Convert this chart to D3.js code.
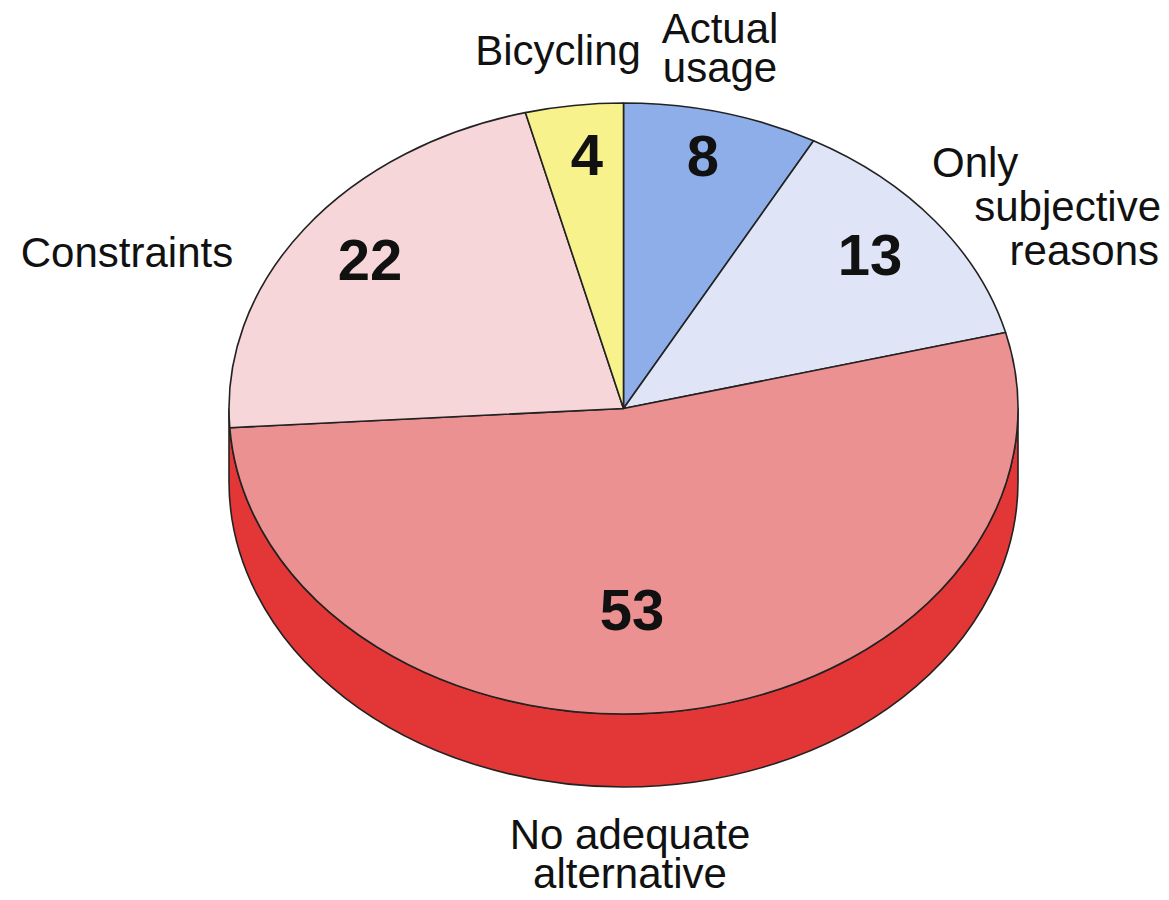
<!DOCTYPE html>
<html>
<head>
<meta charset="utf-8">
<script src="https://cdn.jsdelivr.net/npm/d3@7"></script>
<style>
  html, body { margin: 0; padding: 0; background: #fff; }
  svg { display: block; }
</style>
</head>
<body>
<script>
// Data, clockwise from 12 o'clock
const categories = ["Actual usage", "Only subjective reasons", "No adequate alternative", "Constraints", "Bicycling"];
const values = [8, 13, 53, 22, 4];
const colors = ["#8daee9", "#dfe5f7", "#ec9191", "#f6d6d8", "#f8f28d"];

// Label lines per category
const labelLines = [["Actual", "usage"], ["Only", "subjective", "reasons"], ["No adequate", "alternative"], ["Constraints"], ["Bicycling"]];

document.addEventListener('DOMContentLoaded', function() {
    const width = 1169, height = 900;
    const cx = 623.5, cy = 408.5, rx = 394.5, ry = 305.5, depth = 73;

    const svg = d3.select('body').append('svg')
        .attr('width', width)
        .attr('height', height)
        .style('font-family', '"Liberation Sans", Arial, Helvetica, sans-serif');

    const color = d3.scaleOrdinal().domain(categories).range(colors);

    const pie = d3.pie().sort(null).value(d => d.value);
    const arcs = pie(categories.map((c, i) => ({ name: c, value: values[i] })));

    // point on ellipse for angle a (0 = top, clockwise)
    const pt = (a, dy = 0) => [cx + rx * Math.sin(a), cy - ry * Math.cos(a) + dy];

    // side wall (visible lower half)
    const r0 = pt(Math.PI / 2), l0 = pt(3 * Math.PI / 2);
    svg.append('path')
        .attr('d', `M${r0[0]},${r0[1]} A${rx},${ry} 0 0 1 ${l0[0]},${l0[1]}`
                 + ` L${l0[0]},${l0[1] + depth} A${rx},${ry} 0 0 0 ${r0[0]},${r0[1] + depth} Z`)
        .attr('fill', '#e33636')
        .attr('stroke', '#222')
        .attr('stroke-width', 1.6);

    // top face slices
    svg.append('g').selectAll('path')
        .data(arcs)
        .join('path')
        .attr('d', d => {
            const p0 = pt(d.startAngle), p1 = pt(d.endAngle);
            const large = d.endAngle - d.startAngle > Math.PI ? 1 : 0;
            return `M${cx},${cy} L${p0[0]},${p0[1]} A${rx},${ry} 0 ${large} 1 ${p1[0]},${p1[1]} Z`;
        })
        .attr('fill', d => color(d.data.name))
        .attr('stroke', '#222')
        .attr('stroke-width', 1.6)
        .attr('stroke-linejoin', 'round');

    // value labels (placement per slice)
    const valuePos = [[703, 176], [870, 275], [632, 630], [370, 280], [587, 175]];
    svg.append('g').selectAll('text')
        .data(arcs)
        .join('text')
        .attr('x', (d, i) => valuePos[i][0])
        .attr('y', (d, i) => valuePos[i][1])
        .attr('text-anchor', 'middle')
        .attr('font-size', 58)
        .attr('font-weight', 'bold')
        .attr('fill', '#111')
        .text(d => d.value);

    // category labels: one text per label, a tspan per line [x, baseline, anchor]
    const labelPos = [
        [[720, 43], [720, 82]],
        [[932, 177, 'start'], [1161, 221, 'end'], [1159, 265, 'end']],
        [[630, 849], [630, 888]],
        [[127, 267]],
        [[558, 65]]
    ];
    const lab = svg.append('g').attr('font-size', 42).attr('fill', '#111');
    labelLines.forEach((lines, i) => {
        const t = lab.append('text');
        lines.forEach((s, j) => {
            const p = labelPos[i][j];
            t.append('tspan')
                .attr('x', p[0])
                .attr('y', p[1])
                .attr('text-anchor', p[2] || 'middle')
                .text(s);
        });
    });
});
</script>
</body>
</html>
